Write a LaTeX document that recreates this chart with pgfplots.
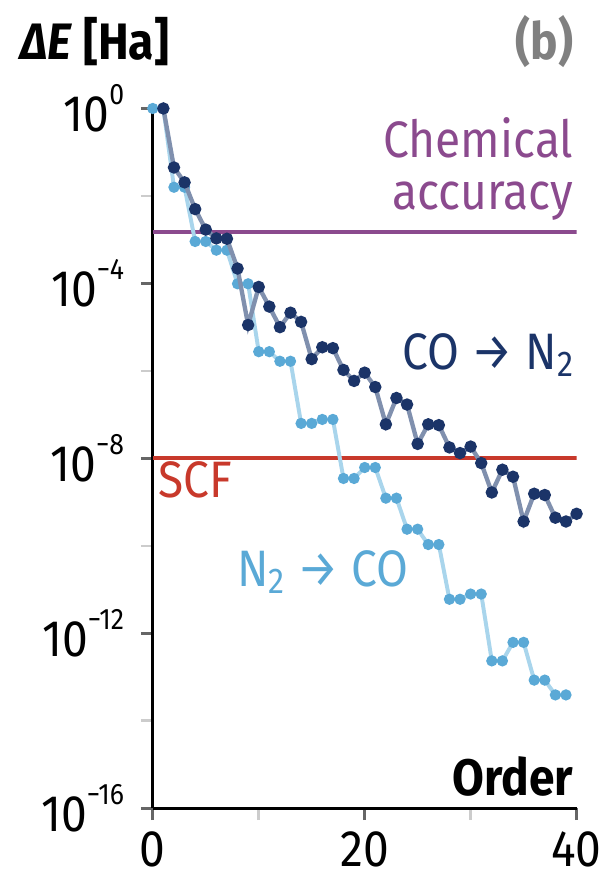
\documentclass[border=0pt]{standalone}
\usepackage{fontspec}
\setmainfont{Fira Sans}[FakeStretch=0.9]
\usepackage{pgfplots}
\pgfplotsset{compat=1.18}
\definecolor{navy}{HTML}{1B3468}
\definecolor{navyline}{HTML}{8090AE}
\definecolor{lblue}{HTML}{5AA9D6}
\definecolor{lblueline}{HTML}{A9D5EC}
\definecolor{chem}{HTML}{8B4A8E}
\definecolor{scf}{HTML}{C8392B}
\definecolor{tickdark}{HTML}{666666}
\definecolor{ticklight}{HTML}{CCCCCC}
\newcommand{\tl}[1]{10\raisebox{0.52em}{\fontsize{15}{15}\selectfont #1}}
\begin{document}
\begin{tikzpicture}
\begin{axis}[
  scale only axis, width=215pt, height=355pt,
  xmin=0, xmax=40, ymode=log, log basis y=10, ymin=1e-16, ymax=1,
  axis lines=left, axis line style={-, line width=1.5pt, black},
  tick align=outside,
  major tick length=6pt, minor tick length=6pt,
  major tick style={line width=1.3pt, tickdark},
  minor tick style={line width=1.3pt, ticklight},
  xtick={0,20,40}, xticklabels={0,20,40},
  minor xtick={10,30},
  ytick={1e-16,1e-12,1e-8,1e-4,1},
  yticklabels={\tl{−16},\tl{−12},\tl{−8},\tl{−4},\tl{0}},
  minor ytick={1e-14,1e-10,1e-6,1e-2},
  ticklabel style={font=\fontsize{26}{29}\selectfont},
  xticklabel style={yshift=-2.5pt},
  yticklabel style={xshift=-5pt},
  clip mode=individual,
]
\path (rel axis cs:-0.3605,-0.114) rectangle (rel axis cs:1.0698,1.155);
\addplot[chem, line width=1.9pt, forget plot] coordinates {(0,1.5e-3) (40,1.5e-3)};
\addplot[scf, line width=1.9pt, forget plot] coordinates {(0,1e-8) (40,1e-8)};
\addplot[lblueline, line width=2pt, mark=*, mark size=1.8pt, mark options={lblue, draw=lblue, fill=lblue}] coordinates {
(0,1) (1,1) (2,1.58e-2) (3,1.58e-2) (4,9.1e-4) (5,9.1e-4) (6,5.75e-4) (7,5.75e-4)
(8,9.8e-5) (9,9.8e-5) (10,2.75e-6) (11,2.75e-6) (12,1.66e-6) (13,1.66e-6)
(14,6.3e-8) (15,6.3e-8) (16,7.76e-8) (17,7.76e-8) (18,3.47e-9) (19,3.47e-9)
(20,6.17e-9) (21,6.17e-9) (22,1.23e-9) (23,1.23e-9) (24,2.4e-10) (25,2.4e-10)
(26,1.07e-10) (27,1.07e-10) (28,6.0e-12) (29,6.0e-12) (30,7.9e-12) (31,7.9e-12)
(32,2.34e-13) (33,2.34e-13) (34,6.2e-13) (35,6.2e-13) (36,8.5e-14) (37,8.5e-14)
(38,3.9e-14) (39,3.9e-14)
};
\addplot[navyline, line width=2.2pt, mark=*, mark size=2pt, mark options={navy, draw=navy, fill=navy}] coordinates {
(1,1) (2,4.47e-2) (3,2.04e-2) (4,5.0e-3) (5,1.7e-3) (6,1.07e-3) (7,1.05e-3)
(8,2.19e-4) (9,1.12e-5) (10,8.3e-5) (11,2.95e-5) (12,1.0e-5) (13,2.14e-5)
(14,1.32e-5) (15,1.86e-6) (16,3.47e-6) (17,3.31e-6) (18,1.05e-6) (19,5.9e-7)
(20,9.1e-7) (21,4.27e-7) (22,6.0e-8) (23,2.4e-7) (24,1.7e-7) (25,2.14e-8)
(26,6.0e-8) (27,5.75e-8) (28,1.78e-8) (29,1.32e-8) (30,1.86e-8) (31,7.8e-9)
(32,1.66e-9) (33,5.5e-9) (34,3.8e-9) (35,3.6e-10) (36,1.55e-9) (37,1.45e-9)
(38,4.4e-10) (39,3.6e-10) (40,5.4e-10)
};
\node[anchor=base west, font=\fontsize{26}{29}\selectfont\bfseries, inner sep=0pt] at (rel axis cs:-0.314,1.070) {\textit{ΔE} [Ha]};
\node[anchor=base east, font=\fontsize{26}{29}\selectfont\bfseries, text=gray, inner sep=0pt] at (rel axis cs:0.993,1.070) {(b)};
\node[anchor=base east, text=chem, font=\fontsize{26}{29}\selectfont, inner sep=0pt] at (rel axis cs:0.993,0.930) {Chemical};
\node[anchor=base east, text=chem, font=\fontsize{26}{29}\selectfont, inner sep=0pt] at (rel axis cs:0.993,0.855) {accuracy};
\node[anchor=base east, text=navy, font=\fontsize{26}{29}\selectfont, inner sep=0pt] at (rel axis cs:0.995,0.627) {CO → N\textsubscript{2}};
\node[anchor=base west, text=scf, font=\fontsize{26}{29}\selectfont, inner sep=0pt] at (rel axis cs:0.012,0.444) {SCF};
\node[anchor=base west, text=lblue, font=\fontsize{26}{29}\selectfont, inner sep=0pt] at (rel axis cs:0.198,0.317) {N\textsubscript{2} → CO};
\node[anchor=base east, font=\fontsize{26}{29}\selectfont\bfseries, inner sep=0pt] at (rel axis cs:0.993,0.018) {Order};
\end{axis}
\end{tikzpicture}
\end{document}
